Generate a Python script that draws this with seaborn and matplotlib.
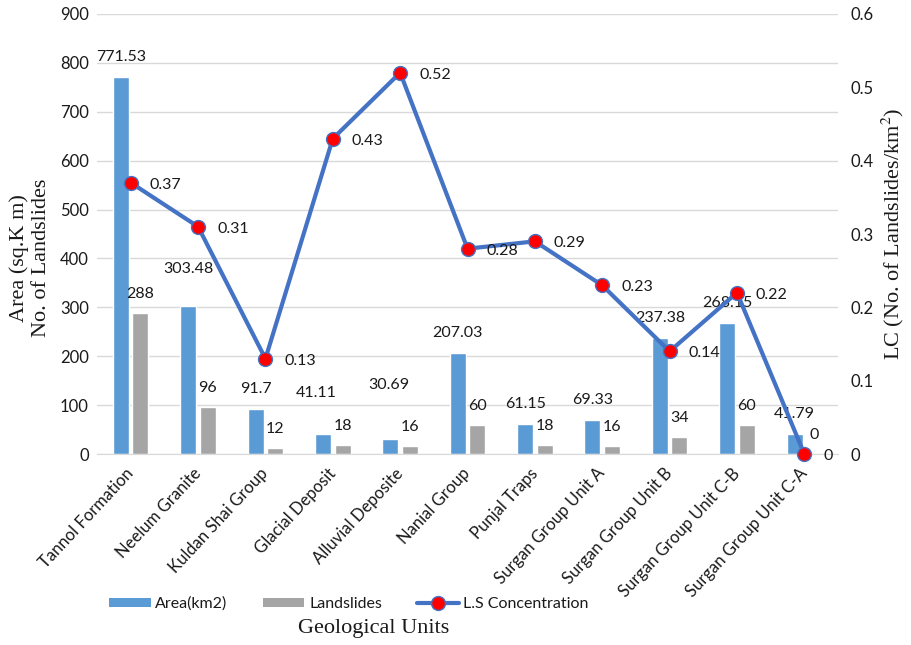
import numpy as np
import pandas as pd
import matplotlib
matplotlib.use("Agg")
import matplotlib.pyplot as plt
import seaborn as sns
from matplotlib.lines import Line2D
from matplotlib.patches import Patch

# ---------------- data ----------------
units = ["Tannol Formation", "Neelum Granite", "Kuldan Shai Group", "Glacial Deposit",
         "Alluvial Deposite", "Nanial Group", "Punjal Traps", "Surgan Group Unit A",
         "Surgan Group Unit B", "Surgan Group Unit C-B", "Surgan Group Unit C-A"]
area = [771.53, 303.48, 91.7, 41.11, 30.69, 207.03, 61.15, 69.33, 237.38, 268.15, 41.79]
landslides = [288, 96, 12, 18, 16, 60, 18, 16, 34, 60, 0]
ls_conc = [0.37, 0.31, 0.13, 0.43, 0.52, 0.28, 0.29, 0.23, 0.14, 0.22, 0]
series_names = ["Area(km2)", "Landslides", "L.S Concentration"]
left_ticks = [0, 100, 200, 300, 400, 500, 600, 700, 800, 900]
right_ticks = [0, 0.1, 0.2, 0.3, 0.4, 0.5, 0.6]

# ---------------- style ----------------
sns.set_style("white")
plt.rcParams["font.family"] = ["Lato", "DejaVu Sans"]
plt.rcParams["mathtext.fontset"] = "stix"

BLUE = "#5B9BD5"
GRAY = "#A5A5A5"
LINE = "#4472C4"
GRID = "#D9D9D9"
TXT = "#1a1a1a"
PX = 72 / 100  # pixels -> points

fig = plt.figure(figsize=(9.11, 6.45), dpi=100)
ax = fig.add_axes([0.1065, 0.2961, 0.8134, 0.6822])

df = pd.DataFrame({
    "unit": units * 2,
    "value": area + landslides,
    "series": [series_names[0]] * len(units) + [series_names[1]] * len(units),
})
sns.barplot(data=df, x="unit", y="value", hue="series", order=units,
            hue_order=series_names[:2], palette=[BLUE, GRAY], saturation=1,
            width=0.58, gap=0.18, ax=ax, legend=False, errorbar=None)

ax.set_xlim(-0.5, len(units) - 0.5)
ax.set_ylim(0, 900)
ax.set_yticks(left_ticks)
ax.yaxis.grid(True, color=GRID, lw=1)
ax.xaxis.grid(False)
ax.set_axisbelow(True)
for s in ["left", "right", "top"]:
    ax.spines[s].set_visible(False)
ax.spines["bottom"].set_color(GRID)
ax.tick_params(axis="y", length=0, labelsize=12, colors=TXT, pad=6)
ax.tick_params(axis="x", length=0, labelsize=12, colors=TXT, pad=12)
ax.set_xticks(range(len(units)))
ax.set_xticklabels(units, rotation=47, ha="right", va="center", rotation_mode="anchor")
ax.set_xlabel("")
ax.set_ylabel("")

# bar labels
area_shift = {1: (0, 37), 3: (-7, 41), 4: (-2, 54)}
cont_area, cont_ls = ax.containers[0], ax.containers[1]
for i, (p, v) in enumerate(zip(cont_area, area)):
    dx, dy = area_shift.get(i, (0, 20))
    ax.annotate(f"{v:g}", (p.get_x() + p.get_width() / 2, p.get_height()),
                xytext=(dx * PX, dy * PX), textcoords="offset points",
                ha="center", va="center", fontsize=11.5, color=TXT)
for i, (p, v) in enumerate(zip(cont_ls, landslides)):
    ax.annotate(f"{v:g}", (p.get_x() + p.get_width() / 2, p.get_height()),
                xytext=(0, 19 * PX), textcoords="offset points",
                ha="center", va="center", fontsize=11.5, color=TXT)

# line on secondary axis
ax2 = ax.twinx()
xpos = np.arange(len(units))
sns.lineplot(x=xpos, y=ls_conc, ax=ax2, color=LINE, lw=3, marker="o",
             markersize=10, markerfacecolor="red", markeredgecolor=LINE,
             markeredgewidth=1, clip_on=False)
ax2.set_ylim(0, 0.6)
ax2.set_yticks(right_ticks)
ax2.set_yticklabels([f"{t:g}" for t in right_ticks])
ax2.tick_params(axis="y", length=0, labelsize=12, colors=TXT, pad=9)
for s in ax2.spines.values():
    s.set_visible(False)
ax2.grid(False)
ax2.set_ylabel("")
for x, v in zip(xpos, ls_conc):
    ax2.annotate(f"{v:g}", (x, v), xytext=(19 * PX, -2 * PX), textcoords="offset points",
                 ha="left", va="center", fontsize=11.5, color=TXT)

# legend
handles = [Patch(facecolor=BLUE, edgecolor="none"),
           Patch(facecolor=GRAY, edgecolor="none"),
           Line2D([0], [0], color=LINE, lw=3, marker="o", markersize=10,
                  markerfacecolor="red", markeredgecolor=LINE)]
fig.legend(handles, series_names, loc="center", bbox_to_anchor=(0.383, 0.064),
           ncol=3, frameon=False, fontsize=11.5, handlelength=2.6, handleheight=0.5,
           columnspacing=2.2, handletextpad=0.3, labelcolor=TXT)

# axis titles
serif = ["Liberation Serif", "DejaVu Serif"]
fig.text(0.41, 0.026, "Geological Units", ha="center", va="center",
         family=serif, fontsize=16, color=TXT)
fig.text(0.033, 0.6, "Area (sq.K m)\nNo. of Landslides", rotation=90, ha="center",
         va="center", multialignment="center", family=serif, fontsize=16,
         linespacing=1.2, color=TXT)
fig.text(0.98, 0.637, "LC (No. of Landslides/km$^2$)", rotation=90, ha="center",
         va="center", family=serif, fontsize=16, color=TXT)

fig.savefig("out.png", dpi=100)
